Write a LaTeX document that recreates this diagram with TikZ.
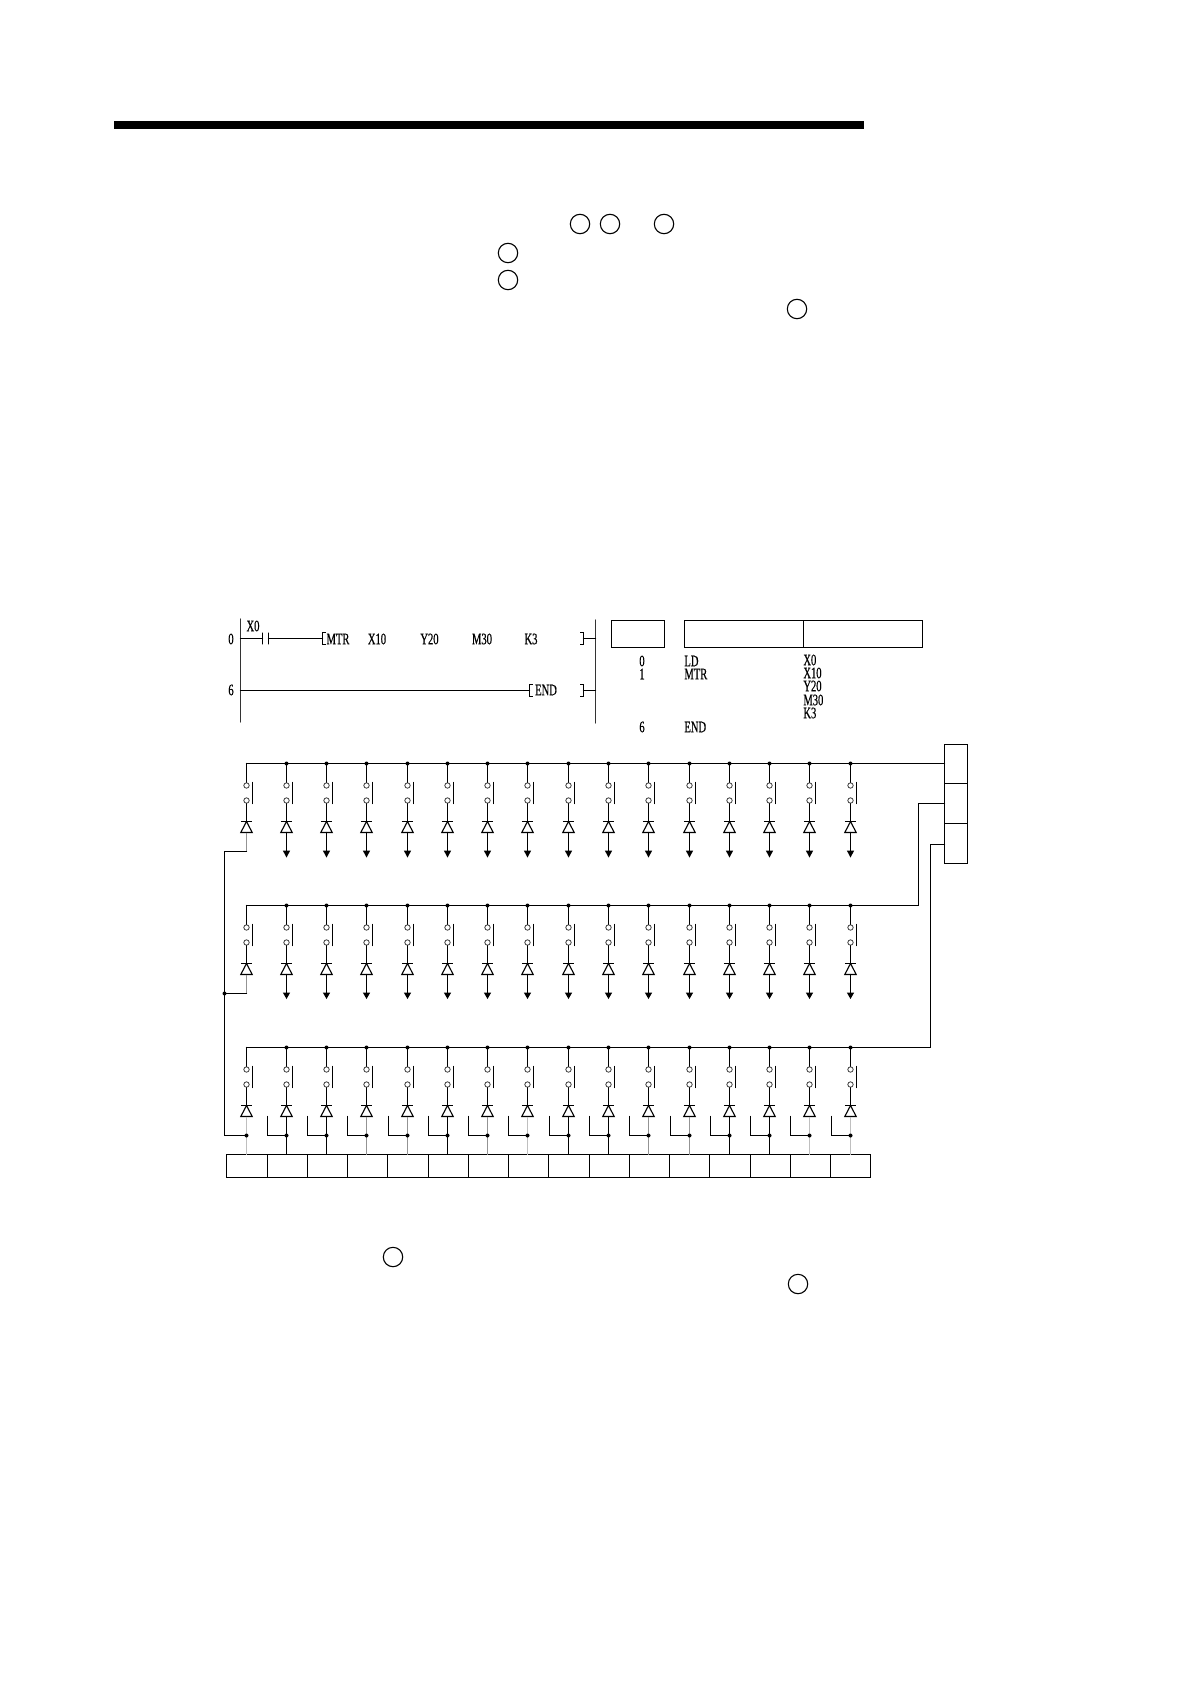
\documentclass[tikz,border=0pt]{standalone}
\usepackage{fontspec}
\usetikzlibrary{calc}
\newfontfamily\plcfont[FakeStretch=0.66,FakeBold=0.5]{Liberation Serif}
\tikzset{
  x=0.5pt,y=-0.5pt,
  wire/.style={line width=0.62pt,line cap=round,line join=miter},
  thinwire/.style={line width=0.55pt},
  blackw/.style={line width=0.62pt,color=black},
  grayw/.style={line width=0.65pt,color=gray!85},
  lightw/.style={line width=0.65pt,color=gray!50},
  box/.style={draw,line width=0.6pt,inner sep=0pt,outer sep=0pt,fill=none,anchor=north west},
  ring/.style={circle,draw,line width=0.55pt,inner sep=0pt,minimum size=9.7pt},
  cring/.style={circle,draw=black!75,line width=0.4pt,inner sep=0pt,minimum size=2.7pt},
  dot/.style={circle,fill=black,inner sep=0pt,minimum size=2pt},
  lbl/.style={inner sep=0pt,font=\plcfont\fontsize{8}{8}\selectfont,text=black},
  lbll/.style={lbl,anchor=west},
}
% one relay column: #1 row tag, #2 x, #3 bus y
\newcommand{\relaycol}[3]{%
  \node[cring] (u#1) at (#2,#3+22) {};
  \node[cring] (l#1) at (#2,#3+37) {};
  \coordinate (bt#1) at (#2,#3);
  \coordinate (k#1) at (#2,#3+58);
  \coordinate (d#1) at (#2,#3+69);
  \draw[wire] (bt#1) -- (u#1.north);
  \draw[wire] (l#1.south) -- (k#1);
  \draw[wire] ([xshift=3pt]u#1.north) -- ([xshift=3pt]l#1.south);
  \draw[thinwire] ([xshift=-2.85pt]k#1) -- ([xshift=2.85pt]k#1);
  \draw[thinwire,line join=miter] (k#1) -- ([xshift=-2.85pt]d#1) -- ([xshift=2.85pt]d#1) -- cycle;
}
\begin{document}
\begin{tikzpicture}
\useasboundingbox (0,0) rectangle (1190,1684);
\fill[white] (0,0) rectangle (1190,1684);
% header bar
\fill[black] (114,121) rectangle (864,129);
% blank callout circles
\foreach \n/\px/\py in {a/580/224,b/610/224,c/664/224,d/508/253,e/508/280,f/797/309,g/393/1257,h/798/1284}
  \node[ring] (ring\n) at (\px,\py) {};
% ---- ladder diagram
\coordinate (railLt) at (240.5,619);
\coordinate (railLb) at (240.5,722);
\coordinate (railRt) at (595.5,620);
\coordinate (railRb) at (595.5,723);
\draw[wire,color=black!80] (railLt) -- (railLb);
\draw[wire,color=black!80] (railRt) -- (railRb);
\node[lbl] (n0) at (231,639) {0};
\node[lbl] (n6) at (231,690) {6};
\node[lbl] (nx0) at (253,626) {X0};
\node[lbl] (nmtr) at (338,639) {MTR};
\node[lbl] (nx10) at (377,639) {X10};
\node[lbl] (ny20) at (429.5,639) {Y20};
\node[lbl] (nm30) at (482,639) {M30};
\node[lbl] (nk3) at (531,639) {K3};
\node[lbl] (nend) at (546,690) {END};
\coordinate (r1a) at (240.5,638.5);
\coordinate (c1) at (262.5,638.5);
\coordinate (c2) at (268.5,638.5);
\coordinate (b1l) at (322.5,638.5);
\coordinate (b1r) at (583.5,638.5);
\coordinate (r1b) at (595.5,638.5);
\draw[wire] (r1a) -- (c1);
\draw[wire] (c2) -- (b1l);
\draw[wire] ([yshift=-2.7pt]c1) -- ([yshift=2.7pt]c1);
\draw[wire] ([yshift=-2.7pt]c2) -- ([yshift=2.7pt]c2);
\draw[thinwire] ([xshift=1.5pt,yshift=-3pt]b1l) -- ([yshift=-3pt]b1l) -- ([yshift=3.2pt]b1l) -- ([xshift=1.5pt,yshift=3.2pt]b1l);
\draw[thinwire] ([xshift=-1.7pt,yshift=-3pt]b1r) -- ([yshift=-3pt]b1r) -- ([yshift=3.2pt]b1r) -- ([xshift=-1.7pt,yshift=3.2pt]b1r);
\draw[wire] (b1r) -- (r1b);
\coordinate (r2a) at (240.5,690.5);
\coordinate (b2l) at (529.5,690.5);
\coordinate (b2r) at (583.5,690.5);
\coordinate (r2b) at (595.5,690.5);
\draw[wire] (r2a) -- (b2l);
\draw[thinwire] ([xshift=1.5pt,yshift=-3pt]b2l) -- ([yshift=-3pt]b2l) -- ([yshift=3.2pt]b2l) -- ([xshift=1.5pt,yshift=3.2pt]b2l);
\draw[thinwire] ([xshift=-1.7pt,yshift=-3pt]b2r) -- ([yshift=-3pt]b2r) -- ([yshift=3.2pt]b2r) -- ([xshift=-1.7pt,yshift=3.2pt]b2r);
\draw[wire] (b2r) -- (r2b);
% ---- list table
\node[box,minimum width=26.5pt,minimum height=13.5pt] (tA) at (611.5,620.5) {};
\node[box,minimum width=59.5pt,minimum height=13.5pt] (tB) at (684.5,620.5) {};
\node[box,minimum width=59.5pt,minimum height=13.5pt] (tC) at (803.5,620.5) {};
\node[lbl] (s0) at (642,661) {0};
\node[lbl] (s1) at (642,674) {1};
\node[lbl] (s6) at (642,727) {6};
\node[lbll] (iLD) at (684,661) {LD};
\node[lbll] (iMTR) at (684,674) {MTR};
\node[lbll] (iEND) at (684,727) {END};
\node[lbll] (oX0) at (803,660) {X0};
\node[lbll] (oX10) at (803,673) {X10};
\node[lbll] (oY20) at (803,686) {Y20};
\node[lbll] (oM30) at (803,700) {M30};
\node[lbll] (oK3) at (803,713) {K3};
% ---- right-hand boxes
\node[box,minimum width=11.5pt,minimum height=19.5pt] (pA) at (944.5,744.5) {};
\node[box,minimum width=11.5pt,minimum height=20pt] (pB) at (944.5,783.5) {};
\node[box,minimum width=11.5pt,minimum height=20pt] (pC) at (944.5,823.5) {};
% ---- bottom boxes
\foreach \i in {0,...,15}{
  \pgfmathsetmacro{\bx}{round(226.3+40.25*\i)+0.5}
  \pgfmathsetmacro{\bxn}{round(226.3+40.25*(\i+1))+0.5}
  \pgfmathsetmacro{\bw}{(\bxn-\bx)/2}
  \node[box,minimum width=\bw pt,minimum height=11.5pt] (q\i) at (\bx,1154.5) {};
}
% ---- relay matrix
\foreach \i in {0,...,15}{
  \pgfmathsetmacro{\cx}{round(245.6+40.27*\i)+0.5}
  \relaycol{a\i}{\cx}{763.5}
  \relaycol{b\i}{\cx}{905.5}
  \relaycol{c\i}{\cx}{1047.5}
  \ifnum\i>0
    \node[dot] at (bta\i) {};
    \node[dot] at (btb\i) {};
    \node[dot] at (btc\i) {};
    \draw[wire] (da\i) -- ++(0,19);
    \draw[wire] (db\i) -- ++(0,19);
    \fill[black] ($(da\i)+(-3.7,18)$) -- ++(7.4,0) -- ($(da\i)+(0,25)$) -- cycle;
    \fill[black] ($(db\i)+(-3.7,18)$) -- ++(7.4,0) -- ($(db\i)+(0,24.5)$) -- cycle;
    \draw[wire] ($(dc\i)+(-19,0)$) |- ($(dc\i)+(0,19)$);
  \fi
  \coordinate (jn\i) at ($(dc\i)+(0,19)$);
}
% row 3 down-leads to the bottom boxes (some print grey)
\foreach \i/\w in {0/lightw,1/blackw,2/blackw,3/grayw,4/grayw,5/blackw,6/grayw,7/lightw,8/blackw,9/blackw,10/grayw,11/grayw,12/blackw,13/blackw,14/lightw,15/lightw}{
  \draw[\w] (dc\i) -- (dc\i |- q\i.north);
  \node[dot] at (jn\i) {};
}
% buses
\coordinate (bus1e) at (pA.west |- bta0);
\draw[wire] (bta0) -- (bus1e);
\coordinate (e2a) at (944.5,803.5);
\coordinate (e2b) at (918.5,803.5);
\coordinate (e3a) at (944.5,844.5);
\coordinate (e3b) at (930.5,844.5);
\draw[wire] (btb0) -| (e2b) -- (e2a);
\draw[wire] (btc0) -| (e3b) -- (e3a);
% common returns
\coordinate (ret1) at (224.5,851.5);
\coordinate (ret2) at (224.5,993.5);
\coordinate (ret3) at (224.5,1135.5);
\draw[grayw] (da0) -- (da0 |- ret1);
\draw[grayw] (db0) -- (db0 |- ret2);
\draw[wire] (da0 |- ret1) -- (ret1) -- (ret3) -- (jn0);
\draw[wire] (db0 |- ret2) -- (ret2);
\node[dot] at (ret2) {};
\end{tikzpicture}
\end{document}
